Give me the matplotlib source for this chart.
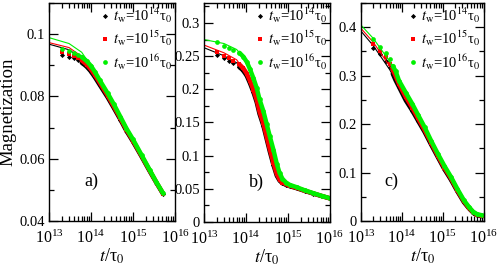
import matplotlib
matplotlib.use('Agg')
import matplotlib.pyplot as plt
from matplotlib.ticker import FuncFormatter, MultipleLocator, LogLocator, NullFormatter

plt.rcParams['font.family'] = 'serif'
plt.rcParams['font.serif'] = ['Liberation Serif', 'DejaVu Serif']
plt.rcParams['mathtext.fontset'] = 'stix'

# panel a
t_a = [2e13, 3e13, 4e13, 5e13, 6e13, 8e13, 1e14, 1.25e14, 1.6e14, 2.5e14, 3.5e14,
       5e14, 7e14, 1e15, 1.6e15, 2.5e15, 3.6e15, 5.2e15]
m_a_14 = [0.0934, 0.0928, 0.0922, 0.0916, 0.0909, 0.0895, 0.0880, 0.0861, 0.0838, 0.0797,
          0.0763, 0.0726, 0.0689, 0.0655, 0.0607, 0.0560, 0.0523, 0.0487]
m_a_15 = [0.0944, 0.0936, 0.0929, 0.0923, 0.0916, 0.0902, 0.0887, 0.0868, 0.0845, 0.0803,
          0.0768, 0.0730, 0.0693, 0.0658, 0.0609, 0.0562, 0.0524, 0.0488]
m_a_16 = [0.0953, 0.0947, 0.0939, 0.0934, 0.0927, 0.0913, 0.0898, 0.0878, 0.0853, 0.0810,
          0.0775, 0.0735, 0.0697, 0.0662, 0.0612, 0.0564, 0.0525, 0.0489]
tf_a = [1e13, 3e13, 6e13, 1e14]
fit_a_14 = [0.0968, 0.0950, 0.0922, 0.0880]
fit_a_15 = [0.0973, 0.0957, 0.0929, 0.0887]
fit_a_16 = [0.0989, 0.0970, 0.0942, 0.0898]

# panel b
t_b = [2e13, 3e13, 4e13, 5e13, 7e13, 8.7e13, 1.05e14, 1.25e14, 1.5e14, 1.8e14, 2.1e14,
       2.6e14, 3.1e14, 3.7e14, 4.5e14, 5.4e14, 6.3e14, 7.4e14, 9e14, 1.1e15, 1.6e15,
       2.5e15, 4e15, 6.3e15, 1e16]
m_b_14 = [0.2518, 0.2467, 0.2428, 0.2390, 0.2335, 0.2280, 0.2200, 0.2090, 0.1960, 0.1805,
          0.1630, 0.1450, 0.1255, 0.1060, 0.0860, 0.0700, 0.0625, 0.0585, 0.0560, 0.0540,
          0.0510, 0.0469, 0.0429, 0.0391, 0.0355]
m_b_15 = [0.2557, 0.2505, 0.2465, 0.2430, 0.2375, 0.2315, 0.2235, 0.2125, 0.1995, 0.1840,
          0.1665, 0.1485, 0.1290, 0.1095, 0.0895, 0.0725, 0.0640, 0.0595, 0.0568, 0.0546,
          0.0515, 0.0473, 0.0431, 0.0393, 0.0356]
m_b_16 = [0.2712, 0.2660, 0.2630, 0.2600, 0.2550, 0.2490, 0.2410, 0.2300, 0.2170, 0.2020,
          0.1850, 0.1670, 0.1480, 0.1290, 0.1090, 0.0880, 0.0740, 0.0650, 0.0595, 0.0560,
          0.0525, 0.0478, 0.0435, 0.0395, 0.0358]
tf_b = [1e13, 3e13, 6e13, 1e14]
fit_b_14 = [0.2627, 0.2505, 0.2400, 0.2210]
fit_b_15 = [0.2667, 0.2550, 0.2445, 0.2250]
fit_b_16 = [0.2750, 0.2690, 0.2600, 0.2430]

# panel c
t_c = [2e13, 3e13, 4e13, 5e13, 6e13, 7e13, 8.5e13, 1.25e14, 1.8e14, 2.5e14, 3.6e14,
       5.2e14, 7.6e14, 1.1e15, 1.6e15, 2.3e15, 3.3e15, 4.4e15, 5.6e15, 7e15, 9e15]
m_c_14 = [0.358, 0.344, 0.331, 0.317, 0.304, 0.291, 0.277, 0.249, 0.228, 0.207, 0.184,
          0.158, 0.132, 0.107, 0.085, 0.061, 0.039, 0.026, 0.017, 0.012, 0.010]
m_c_15 = [0.366, 0.352, 0.338, 0.325, 0.312, 0.300, 0.283, 0.256, 0.234, 0.212, 0.188,
          0.162, 0.135, 0.110, 0.088, 0.063, 0.041, 0.027, 0.018, 0.013, 0.011]
m_c_16 = [0.375, 0.360, 0.346, 0.334, 0.320, 0.310, 0.290, 0.265, 0.242, 0.219, 0.194,
          0.166, 0.139, 0.114, 0.091, 0.066, 0.043, 0.029, 0.019, 0.014, 0.012]
tf_c = [1e13, 2e13, 5e13, 1e14]
fit_c_14 = [0.392, 0.362, 0.313, 0.268]
fit_c_15 = [0.3977, 0.369, 0.320, 0.275]
fit_c_16 = [0.4045, 0.377, 0.330, 0.283]

labels = [r'$t_{\rm w}$=10$^{14}$τ$_0$', r'$t_{\rm w}$=10$^{15}$τ$_0$', r'$t_{\rm w}$=10$^{16}$τ$_0$']
colors = ['black', '#ff0000', '#00f000']
markers = ['D', 's', 'o']
msizes = [2.6, 3.0, 3.4]

panels = [
    (t_a, [m_a_14, m_a_15, m_a_16], tf_a, [fit_a_14, fit_a_15, fit_a_16],
     (0.04, 0.11), 0.02, 0.01, 'a)', [0.0984, 0.205, 0.253, 0.784], 0.34),
    (t_b, [m_b_14, m_b_15, m_b_16], tf_b, [fit_b_14, fit_b_15, fit_b_16],
     (0.0, 0.33), 0.05, 0.025, 'b)', [0.4096, 0.2014, 0.253, 0.7876], 0.42),
    (t_c, [m_c_14, m_c_15, m_c_16], tf_c, [fit_c_14, fit_c_15, fit_c_16],
     (0.0, 0.45), 0.1, 0.05, 'c)', [0.7249, 0.205, 0.246, 0.784], 0.25),
]

fig = plt.figure(figsize=(4.98, 2.78), dpi=100)

for i, (t, series, tf, fits, ylim, major, minor, tag, rect, tagx) in enumerate(panels):
    ax = fig.add_axes(rect)
    for m, f, c, mk, ms, lab in zip(series, fits, colors, markers, msizes, labels):
        ax.plot(tf, f, color=c, lw=0.8)
        ax.plot(t[4:], m[4:], color=c, lw=3.2, solid_capstyle='round')
        ax.plot(t, m, linestyle='none', marker=mk, ms=ms, color=c, mew=0, label=lab)
    ax.set_xscale('log')
    ax.set_xlim(1e13, 1e16)
    ax.set_ylim(*ylim)
    ax.xaxis.set_major_locator(LogLocator(base=10, numticks=10))
    ax.xaxis.set_minor_locator(LogLocator(base=10, subs=range(2, 10), numticks=20))
    ax.xaxis.set_minor_formatter(NullFormatter())
    ax.yaxis.set_major_locator(MultipleLocator(major))
    ax.yaxis.set_minor_locator(MultipleLocator(minor))
    ax.yaxis.set_major_formatter(FuncFormatter(lambda v, p: '%g' % round(v, 4)))
    ax.tick_params(which='both', direction='in', top=True, right=True)
    ax.tick_params(axis='y', labelsize=10.5, pad=3)
    ax.tick_params(axis='x', labelsize=11.5, pad=6)
    ax.tick_params(which='major', length=6.5, width=0.9)
    ax.tick_params(which='minor', length=3.5, width=0.9)
    for sp in ax.spines.values():
        sp.set_linewidth(1.0)
    ax.set_xlabel(r'$t$/τ$_0$', fontsize=13, labelpad=0)
    ax.text(tagx, 0.18, tag, transform=ax.transAxes, fontsize=13, ha='center', va='center')
    ax.legend(loc='upper right', frameon=False, fontsize=10.5, handlelength=0.6,
              handletextpad=0.25, borderaxespad=0.0, labelspacing=0.25, borderpad=0.2)
    if i == 0:
        ax.set_ylabel('Magnetization', fontsize=13.5, labelpad=2)

plt.savefig('out.png', dpi=100)
